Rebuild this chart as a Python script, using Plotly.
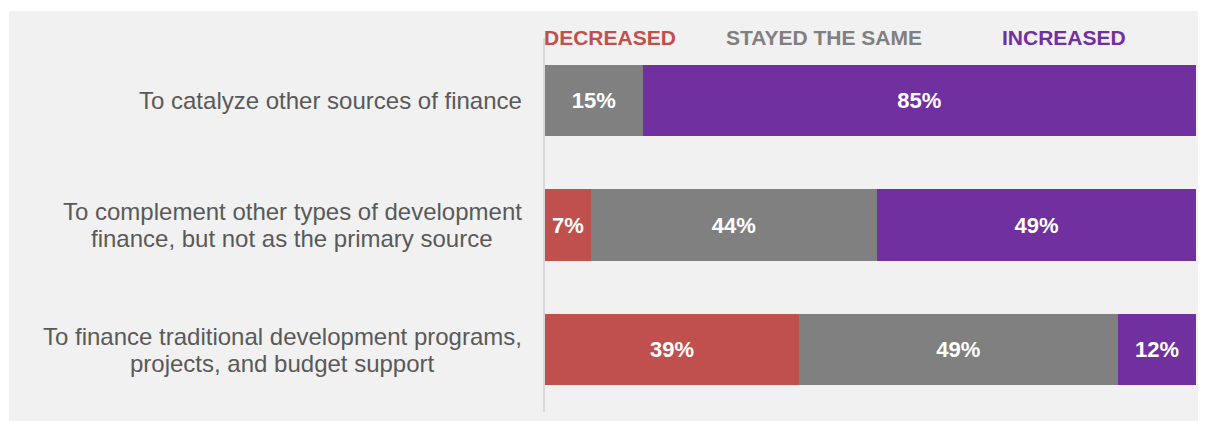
import plotly.graph_objects as go

categories = [
    "To catalyze other sources of finance",
    "To complement other types of development<br>finance, but not as the primary source",
    "To finance traditional development programs,<br>projects, and budget support",
]
decreased = [0, 7, 39]
stayed_same = [15, 44, 49]
increased = [85, 49, 12]

series = [
    ("DECREASED", decreased, "#C0504D"),
    ("STAYED THE SAME", stayed_same, "#808080"),
    ("INCREASED", increased, "#7030A0"),
]

# the page puts the figure 8px in from the top-left corner
W, H = 1198, 413
ML, MR, MT, MB = 537, 10, 30, 9
pw, ph = W - ML - MR, H - MT - MB


def px_x(px):  # page pixel -> paper x
    return (px - 8 - ML) / pw


def px_y(py):  # page pixel -> paper y
    return (H - MB - (py - 8)) / ph


fig = go.Figure()
for name, vals, color in series:
    fig.add_trace(go.Bar(
        y=categories, x=vals, name=name, orientation="h",
        marker=dict(color=color, line=dict(width=0)),
        text=[f"{v}%" if v else "" for v in vals],
        textposition="inside", insidetextanchor="middle",
        textfont=dict(family="Liberation Sans", size=22, color="white", weight="bold"),
        showlegend=False,
    ))

# grey panel behind everything
fig.add_shape(type="rect", xref="paper", yref="paper",
              x0=px_x(9), x1=px_x(1206), y0=px_y(421), y1=px_y(11),
              fillcolor="#f1f1f1", line=dict(width=0), layer="below")

# category labels: each line centred on the label block, tight line spacing
label_centres = [330, 292, 282]
line_gap = 27
for cat, cx in zip(categories, label_centres):
    lines = cat.split("<br>")
    n = len(lines)
    for i, line in enumerate(lines):
        fig.add_annotation(x=px_x(cx), xref="paper", y=cat, yref="y",
                           text=line, showarrow=False, xanchor="center", yanchor="middle",
                           yshift=((n - 1) / 2 - i) * line_gap,
                           font=dict(family="Liberation Sans", size=24, color="#595959"))

# header labels over the columns
header_x = [610, 824, 1064]
for (name, _, color), hx in zip(series, header_x):
    fig.add_annotation(x=px_x(hx), xref="paper", y=px_y(38), yref="paper",
                       text=f"<b>{name}</b>", showarrow=False,
                       xanchor="center", yanchor="middle", yshift=1,
                       font=dict(family="Liberation Sans", size=21, color=color))

fig.update_layout(
    width=W, height=H,
    barmode="stack", bargap=0.43,
    margin=dict(l=ML, r=MR, t=MT, b=MB),
    paper_bgcolor="white", plot_bgcolor="rgba(0,0,0,0)",
    xaxis=dict(range=[0, 100], visible=False, fixedrange=True),
    yaxis=dict(autorange="reversed", showticklabels=False, showgrid=False,
               showline=True, linecolor="#d9d9d9", linewidth=2, zeroline=False),
)

fig.write_html("out.html")
